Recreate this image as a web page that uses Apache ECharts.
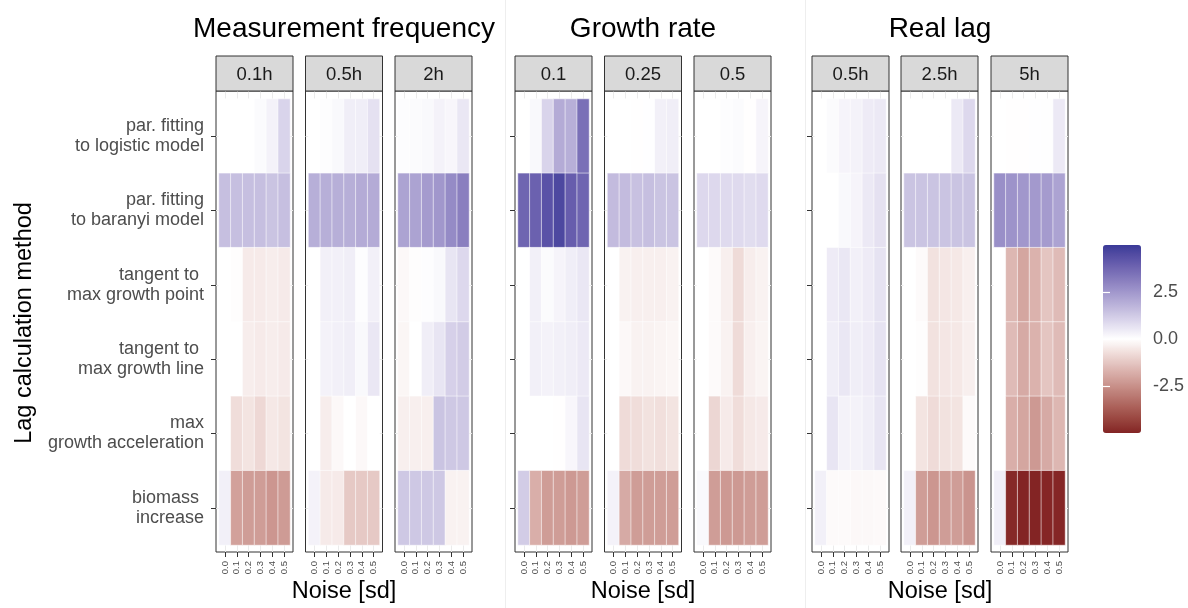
<!DOCTYPE html>
<html><head><meta charset="utf-8">
<script src="https://cdn.jsdelivr.net/npm/echarts@6/dist/echarts.min.js"></script>
<style>html,body{margin:0;padding:0;background:#fff}#c{width:1188px;height:608px}</style>
</head><body><div id="c"></div>
<script>
// ---------------- data ----------------
const noiseLevels = ['0.0', '0.1', '0.2', '0.3', '0.4', '0.5'];
const methods = [
  'par. fitting\nto logistic model',
  'par. fitting\nto baranyi model',
  'tangent to \nmax growth point',
  'tangent to \nmax growth line',
  'max\ngrowth acceleration',
  'biomass \nincrease'
];
const groupTitles = ['Measurement frequency', 'Growth rate', 'Real lag'];
const facetLabels = ['0.1h', '0.5h', '2h', '0.1', '0.25', '0.5', '0.5h', '2.5h', '5h'];
const legendTicks = [-2.5, 0, 2.5];
const legendMin = -5, legendMax = 5;

// rows = methods (top to bottom), columns = noise levels 0.0 .. 0.5
const freq_0_1h = [
  [0, 0, 0, 0.1, 0.3, 1.0],
  [1.5, 1.5, 1.5, 1.5, 1.4, 1.5],
  [0, -0.05, -0.45, -0.45, -0.4, -0.45],
  [0, 0, -0.4, -0.45, -0.4, -0.45],
  [0, -0.75, -0.6, -0.85, -0.5, -0.6],
  [0.35, -2.1, -2.2, -2.2, -2.35, -2.25]
];
const freq_0_5h = [
  [0, 0.05, 0.15, 0.4, 0.4, 0.7],
  [1.9, 1.9, 1.9, 1.9, 2.0, 2.0],
  [0, 0.35, 0.35, 0.4, 0.05, 0.35],
  [0, 0.3, 0.35, 0.4, 0.15, 0.55],
  [0, -0.4, -0.15, 0, -0.15, 0],
  [0.3, -0.45, -0.45, -1.2, -1.2, -1.2]
];
const freq_2h = [
  [0.05, 0.1, 0.15, 0.3, 0.2, 0.55],
  [2.2, 2.2, 2.4, 2.5, 2.8, 3.1],
  [-0.15, -0.05, 0.05, 0.15, 0.6, 0.9],
  [-0.2, 0, 0.4, 0.6, 1.1, 1.2],
  [-0.35, -0.35, -0.35, 1.4, 1.3, 1.3],
  [1.3, 1.3, 1.3, 1.3, -0.3, -0.3]
];
const rate_0_1 = [
  [0, 0.15, 1.0, 2.0, 1.9, 3.5],
  [3.8, 3.9, 4.3, 4.6, 4.0, 3.8],
  [0, 0.35, 0.1, 0.25, 0.4, 0.55],
  [0, 0.35, 0.3, 0.35, 0.4, 0.5],
  [0, 0, 0, -0.02, 0.2, 0.6],
  [1.2, -1.8, -2.2, -2.2, -2.3, -2.2]
];
const rate_0_25 = [
  [0, 0, -0.02, 0.02, 0.35, 0.4],
  [1.6, 1.6, 1.45, 1.5, 1.4, 1.4],
  [0, -0.3, -0.35, -0.35, -0.35, -0.3],
  [0, -0.15, -0.3, -0.3, -0.25, -0.2],
  [0, -0.8, -0.75, -0.65, -0.7, -0.6],
  [0.3, -1.9, -2.2, -2.2, -2.2, -2.2]
];
const rate_0_5 = [
  [0, 0, 0.05, 0.1, -0.03, 0.25],
  [0.9, 0.9, 0.85, 0.85, 0.8, 0.85],
  [0, -0.1, -0.35, -0.8, -0.4, -0.3],
  [0, -0.1, -0.3, -0.8, -0.35, -0.25],
  [0, -0.9, -0.45, -0.75, -0.5, -0.45],
  [0.15, -2.2, -2.3, -2.3, -2.2, -2.2]
];
const lag_0_5h = [
  [0, 0.1, 0.25, 0.3, 0.45, 0.5],
  [0, 0, 0.15, 0.25, 0.5, 0.7],
  [0, 0.45, 0.55, 0.35, 0.45, 0.65],
  [0, 0.4, 0.55, 0.4, 0.45, 0.65],
  [0, 0.6, 0.3, 0.3, 0.4, 0.6],
  [0.35, -0.1, -0.1, -0.15, -0.15, -0.12]
];
const lag_2_5h = [
  [0, 0, 0, 0, 0.5, 0.9],
  [1.4, 1.4, 1.4, 1.4, 1.4, 1.4],
  [0, -0.1, -0.65, -0.55, -0.5, -0.35],
  [0, -0.05, -0.65, -0.55, -0.5, -0.35],
  [0, -0.6, -0.8, -0.65, -0.6, -0.1],
  [0.35, -2.2, -2.35, -2.2, -2.2, -2.4]
];
const lag_5h = [
  [0, -0.02, -0.02, 0.02, 0.03, 0.5],
  [2.7, 2.6, 2.5, 2.45, 2.4, 2.2],
  [0, -1.6, -2.0, -1.7, -1.3, -1.5],
  [0, -1.5, -1.9, -1.7, -1.3, -1.5],
  [0, -1.8, -2.0, -2.3, -1.9, -1.6],
  [0.4, -4.9, -5.0, -5.0, -4.95, -4.95]
];
const facetValues = [freq_0_1h, freq_0_5h, freq_2h, rate_0_1, rate_0_25, rate_0_5, lag_0_5h, lag_2_5h, lag_5h];

// ---------------- colour scale (ggplot2 gradient2, Lab interpolation) ----------------
function toLin(c) { c /= 255; return c <= 0.04045 ? c / 12.92 : Math.pow((c + 0.055) / 1.055, 2.4); }
function fromLin(c) { c = c <= 0.0031308 ? 12.92 * c : 1.055 * Math.pow(c, 1 / 2.4) - 0.055; return Math.round(Math.max(0, Math.min(1, c)) * 255); }
function hexToLab(h) {
  const r = toLin(parseInt(h.slice(1, 3), 16)), g = toLin(parseInt(h.slice(3, 5), 16)), b = toLin(parseInt(h.slice(5, 7), 16));
  const X = (0.4124564 * r + 0.3575761 * g + 0.1804375 * b) / 0.95047;
  const Y = 0.2126729 * r + 0.7151522 * g + 0.0721750 * b;
  const Z = (0.0193339 * r + 0.1191920 * g + 0.9503041 * b) / 1.08883;
  const f = t => t > 216 / 24389 ? Math.cbrt(t) : t / (3 * (6 / 29) * (6 / 29)) + 4 / 29;
  const fx = f(X), fy = f(Y), fz = f(Z);
  return [116 * fy - 16, 500 * (fx - fy), 200 * (fy - fz)];
}
function labToHex(lab) {
  const fy = (lab[0] + 16) / 116, fx = fy + lab[1] / 500, fz = fy - lab[2] / 200;
  const fi = t => t > 6 / 29 ? t * t * t : 3 * (6 / 29) * (6 / 29) * (t - 4 / 29);
  const X = fi(fx) * 0.95047, Y = fi(fy), Z = fi(fz) * 1.08883;
  const r = 3.2404542 * X - 1.5371385 * Y - 0.4985314 * Z;
  const g = -0.9692660 * X + 1.8760108 * Y + 0.0415560 * Z;
  const b = 0.0556434 * X - 0.2040259 * Y + 1.0572252 * Z;
  return '#' + [r, g, b].map(c => fromLin(c).toString(16).padStart(2, '0')).join('');
}
const LAB_LOW = hexToLab('#832424'), LAB_MID = hexToLab('#ffffff'), LAB_HIGH = hexToLab('#3a3a98');
function gradColor(v) {
  let t = Math.max(-1, Math.min(1, v / Math.max(-legendMin, legendMax)));
  const end = t < 0 ? LAB_LOW : LAB_HIGH; t = Math.abs(t);
  return labToHex(LAB_MID.map((m, k) => m + (end[k] - m) * t));
}
const STOPS = 81;
const rampColors = [];
for (let i = 0; i < STOPS; i++) rampColors.push(gradColor(legendMin + i * (legendMax - legendMin) / (STOPS - 1)));

// ---------------- layout ----------------
const FONT = '"Liberation Sans", Arial, Helvetica, sans-serif';
const panelLeft = [216, 305.5, 395, 515, 604.5, 694, 812, 901, 991];
const PW = 77, PT = 91, PH = 461, PADX = 3, PADT = 8, PADB = 7;
const TW = PW - 2 * PADX, TH = PH - PADT - PADB;
const STRIP_T = 56, STRIP_H = 35;

const grids = [], xAxes = [], yAxes = [], series = [], graphics = [];
const colW = TW / 6, rowH = TH / 6;
const sixIdx = [0, 1, 2, 3, 4, 5];

facetValues.forEach((vals, i) => {
  const L = panelLeft[i];
  const frameIdx = grids.length;
  grids.push({ left: L, top: PT, width: PW, height: PH, show: true, borderColor: '#333333', borderWidth: 1, backgroundColor: '#ffffff', outerBoundsMode: 'none', containLabel: false });
  xAxes.push({ type: 'value', gridIndex: frameIdx, min: -0.5 - PADX / colW, max: 5.5 + PADX / colW,
    axisLine: { show: false }, axisLabel: { show: false }, axisTick: { show: false, customValues: sixIdx },
    splitLine: { show: true, lineStyle: { color: '#ebebeb', width: 1 } } });
  yAxes.push({ type: 'value', gridIndex: frameIdx, inverse: true, min: -0.5 - PADT / rowH, max: 5.5 + PADB / rowH,
    axisLine: { show: false }, axisLabel: { show: false }, axisTick: { show: false, customValues: sixIdx },
    splitLine: { show: true, lineStyle: { color: '#ebebeb', width: 1 } } });

  const tileIdx = grids.length;
  grids.push({ left: L + PADX, top: PT + PADT, width: TW, height: TH, show: false, outerBoundsMode: 'none', containLabel: false });
  const inGroup = i % 3;
  xAxes.push({ type: 'category', gridIndex: tileIdx, data: noiseLevels, position: 'bottom', offset: PADB,
    axisLine: { show: false },
    axisTick: { show: true, alignWithLabel: true, length: 5, lineStyle: { color: '#333333', width: 1 } },
    axisLabel: { show: true, interval: 0, rotate: 90, fontSize: 9.5, color: '#4d4d4d', margin: 9, fontFamily: FONT },
    splitLine: { show: false } });
  yAxes.push({ type: 'category', gridIndex: tileIdx, data: methods, inverse: true, position: 'left', offset: PADX,
    show: inGroup === 0,
    axisLine: { show: false },
    axisTick: { show: true, alignWithLabel: true, length: 5, lineStyle: { color: '#333333', width: 1 } },
    axisLabel: { show: i === 0, interval: 0, fontSize: 18, lineHeight: 20, color: '#4d4d4d', margin: 12, align: 'right', fontFamily: FONT },
    splitLine: { show: false } });

  const data = [];
  vals.forEach((row, r) => row.forEach((v, c) => data.push([c, r, v])));
  series.push({ type: 'heatmap', xAxisIndex: tileIdx - i - (i), yAxisIndex: 0, data: data,
    itemStyle: { borderColor: 'rgba(255,255,255,0.55)', borderWidth: 1 },
    emphasis: { disabled: true }, progressive: 0 });
  series[series.length - 1].xAxisIndex = xAxes.length - 1;
  series[series.length - 1].yAxisIndex = yAxes.length - 1;

  // facet strip
  graphics.push({ type: 'rect', shape: { x: L, y: STRIP_T, width: PW, height: STRIP_H }, style: { fill: '#d9d9d9', stroke: '#333333', lineWidth: 1 }, z: 10 });
  graphics.push({ type: 'text', x: L + PW / 2, y: STRIP_T + STRIP_H / 2 + 1, style: { text: facetLabels[i], fontSize: 18.5, fontFamily: FONT, fill: '#1a1a1a', align: 'center', verticalAlign: 'middle' }, z: 11 });
});

// group titles and x-axis titles
for (let g = 0; g < 3; g++) {
  const cx = (panelLeft[g * 3] + panelLeft[g * 3 + 2] + PW) / 2;
  graphics.push({ type: 'text', x: cx, y: 29, style: { text: groupTitles[g], fontSize: 28, fontFamily: FONT, fill: '#000000', align: 'center', verticalAlign: 'middle' } });
  graphics.push({ type: 'text', x: cx, y: 592, style: { text: 'Noise [sd]', fontSize: 23.5, fontFamily: FONT, fill: '#000000', align: 'center', verticalAlign: 'middle' } });
}
// y title
graphics.push({ type: 'text', x: 25, y: 323, rotation: Math.PI / 2, style: { text: 'Lag calculation method', fontSize: 23.5, fontFamily: FONT, fill: '#000000', align: 'center', verticalAlign: 'middle' } });
// faint sub-plot boundaries
[505.5, 805.5].forEach(x => graphics.push({ type: 'line', shape: { x1: x, y1: 0, x2: x, y2: 608 }, style: { stroke: '#eeeeee', lineWidth: 1 }, z: -1 }));

// legend axis grid
const LEG_L = 1103, LEG_T = 245, LEG_W = 38, LEG_H = 188;
const legIdx = grids.length;
grids.push({ left: LEG_L, top: LEG_T, width: LEG_W, height: LEG_H, show: false, outerBoundsMode: 'none', containLabel: false, z: 20 });
xAxes.push({ type: 'value', gridIndex: legIdx, show: false });
yAxes.push({ type: 'value', gridIndex: legIdx, position: 'right', min: legendMin, max: legendMax, z: 20,
  axisLine: { show: false }, splitLine: { show: false },
  axisTick: { show: true, inside: true, length: 7, lineStyle: { color: '#ffffff', width: 1.2 }, customValues: legendTicks },
  axisLabel: { show: true, customValues: legendTicks, formatter: v => Number(v).toFixed(1), fontSize: 18, color: '#4d4d4d', margin: 12, fontFamily: FONT } });
yAxes.push({ type: 'value', gridIndex: legIdx, position: 'left', min: legendMin, max: legendMax, z: 20,
  axisLine: { show: false }, splitLine: { show: false }, axisLabel: { show: false },
  axisTick: { show: true, inside: true, length: 7, lineStyle: { color: '#ffffff', width: 1.2 }, customValues: legendTicks } });

const option = {
  animation: false,
  backgroundColor: '#ffffff',
  textStyle: { fontFamily: FONT },
  grid: grids,
  xAxis: xAxes,
  yAxis: yAxes,
  visualMap: {
    type: 'continuous', min: legendMin, max: legendMax, calculable: false, realtime: false,
    left: LEG_L, top: LEG_T, itemWidth: LEG_W, itemHeight: LEG_H, padding: 0, text: null,
    seriesIndex: series.map((s, k) => k), dimension: 2,
    inRange: { color: rampColors }, hoverLink: false, z: 5
  },
  graphic: graphics,
  series: series
};
const chart = echarts.init(document.getElementById('c'), null, { renderer: 'canvas' });
chart.setOption(option);
</script>
</body></html>
